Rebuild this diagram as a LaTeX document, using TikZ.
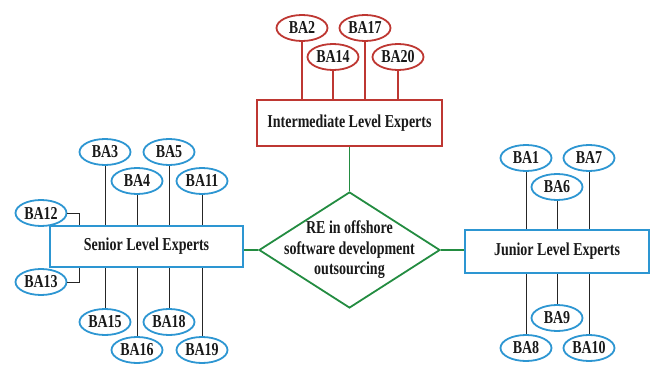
\documentclass[tikz,border=0pt]{standalone}
\usepackage{fontspec}
\setmainfont{Liberation Serif}
\usetikzlibrary{shapes.geometric}
\definecolor{bablue}{RGB}{45,150,210}
\definecolor{bared}{RGB}{190,55,50}
\definecolor{bagreen}{RGB}{35,140,65}
\newcommand{\tall}[1]{\scalebox{1}[1.3]{#1}}
\tikzset{
        ba/.style={ellipse, draw=bablue, line width=1.8pt, minimum width=51pt, minimum height=26pt, inner sep=0pt, text=black!90, font=\bfseries\fontsize{14}{16}\selectfont},
        bainter/.style={ba, draw=bared},
        level/.style={rectangle, draw=bablue, line width=1.6pt, inner sep=0pt, text=black!90, font=\bfseries\fontsize{14}{16}\selectfont},
        link/.style={black!85, line width=1pt},
        hub/.style={bagreen, line width=1.8pt}
}

\begin{document}
\begin{tikzpicture}[x=1pt, y=1pt]
        \useasboundingbox (0,0) rectangle (657,-367);

        \node[level, draw=bared, minimum width=185pt, minimum height=46pt] (inter) at (349.5,-123) {\tall{Intermediate Level Experts}};
        \node[level, minimum width=193pt, minimum height=41pt] (senior) at (146.5,-246.5) {\tall{Senior Level Experts}};
        \node[level, minimum width=184pt, minimum height=43pt] (junior) at (557,-251.5) {\tall{Junior Level Experts}};
        \node[diamond, draw=bagreen, line width=1.8pt, minimum width=181pt, minimum height=116pt, inner sep=0pt] (re) at (349.5,-250) {};
        \node[text=black!90, font=\bfseries\fontsize{14}{15.4}\selectfont] (retext) at (re.center) {\tall{\begin{tabular}{@{}c@{}}RE in offshore\\software development\\outsourcing\end{tabular}}};

        \draw[hub] (inter.south) -- (re.north);
        \draw[hub] (re.west) -- (re.west -| senior.east);
        \draw[hub] (re.east) -- (re.east -| junior.west);

        \node[bainter] (ba2) at (302,-28) {\tall{BA2}};
        \node[bainter] (ba17) at (365,-28) {\tall{BA17}};
        \node[bainter] (ba14) at (333,-57) {\tall{BA14}};
        \node[bainter] (ba20) at (398,-57) {\tall{BA20}};
        \draw[bared, line width=1.3pt] (ba2.south) -- (ba2.south |- inter.north);
        \draw[bared, line width=1.3pt] (ba17.south) -- (ba17.south |- inter.north);
        \draw[bared, line width=1.3pt] (ba14.south) -- (ba14.south |- inter.north);
        \draw[bared, line width=1.3pt] (ba20.south) -- (ba20.south |- inter.north);

        \node[ba] (ba3) at (105,-152) {\tall{BA3}};
        \node[ba] (ba5) at (169,-152) {\tall{BA5}};
        \node[ba] (ba4) at (137,-181) {\tall{BA4}};
        \node[ba] (ba11) at (202,-181) {\tall{BA11}};
        \node[ba] (ba12) at (41,-213) {\tall{BA12}};
        \node[ba] (ba13) at (41,-282) {\tall{BA13}};
        \node[ba] (ba15) at (105,-322) {\tall{BA15}};
        \node[ba] (ba18) at (169,-322) {\tall{BA18}};
        \node[ba] (ba16) at (137,-350) {\tall{BA16}};
        \node[ba] (ba19) at (202,-350) {\tall{BA19}};
        \draw[link] (ba3.south) -- (ba3.south |- senior.north);
        \draw[link] (ba5.south) -- (ba5.south |- senior.north);
        \draw[link] (ba4.south) -- (ba4.south |- senior.north);
        \draw[link] (ba11.south) -- (ba11.south |- senior.north);
        \draw[link] (ba12.east) -| ([xshift=30pt]senior.north west);
        \draw[link] (ba13.east) -| ([xshift=30pt]senior.south west);
        \draw[link] (ba15.north) -- (ba15.north |- senior.south);
        \draw[link] (ba18.north) -- (ba18.north |- senior.south);
        \draw[link] (ba16.north) -- (ba16.north |- senior.south);
        \draw[link] (ba19.north) -- (ba19.north |- senior.south);

        \node[ba] (ba1) at (526,-158) {\tall{BA1}};
        \node[ba] (ba7) at (589,-158) {\tall{BA7}};
        \node[ba] (ba6) at (557,-187) {\tall{BA6}};
        \node[ba] (ba9) at (557,-318) {\tall{BA9}};
        \node[ba] (ba8) at (526,-348) {\tall{BA8}};
        \node[ba] (ba10) at (589,-348) {\tall{BA10}};
        \draw[link] (ba1.south) -- (ba1.south |- junior.north);
        \draw[link] (ba7.south) -- (ba7.south |- junior.north);
        \draw[link] (ba6.south) -- (ba6.south |- junior.north);
        \draw[link] (ba9.north) -- (ba9.north |- junior.south);
        \draw[link] (ba8.north) -- (ba8.north |- junior.south);
        \draw[link] (ba10.north) -- (ba10.north |- junior.south);
\end{tikzpicture}
\end{document}
